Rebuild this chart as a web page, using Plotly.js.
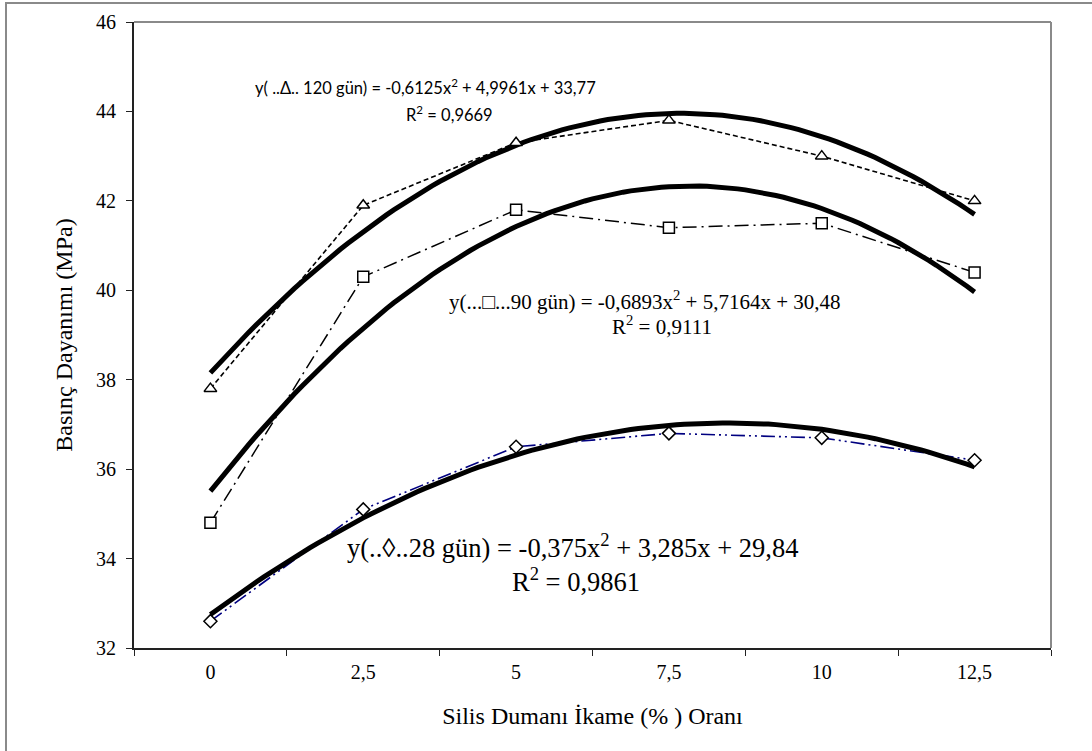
<!DOCTYPE html>
<html>
<head>
<meta charset="utf-8">
<script src="https://cdn.plot.ly/plotly-3.0.1.min.js"></script>
<style>
  html, body { margin: 0; padding: 0; background: #fff; }
  #wrap { position: relative; width: 1092px; height: 751px; }
  #chart { width: 1092px; height: 751px; }
  #frame { position: absolute; left: 5px; top: 2px; width: 1200px; height: 800px;
           border-left: 2px solid #8a8a8a; border-top: 2px solid #8a8a8a; pointer-events: none; }
</style>
</head>
<body>
<div id="wrap">
  <div id="chart"></div>
  <div id="frame"></div>
</div>
<script>
// Category positions (Excel category axis: index 1..6)
const categoryIndex = [1, 2, 3, 4, 5, 6];
const categoryLabels = ['0', '2,5', '5', '7,5', '10', '12,5'];

// Measured compressive strength (MPa)
const day120 = [37.8, 41.9, 43.3, 43.8, 43.0, 42.0];
const day90  = [34.8, 40.3, 41.8, 41.4, 41.5, 40.4];
const day28  = [32.6, 35.1, 36.5, 36.8, 36.7, 36.2];

// Polynomial trendline coefficients shown in the chart [a, b, c] for a*x^2 + b*x + c
const trend120 = [-0.6125, 4.9961, 33.77];
const trend90  = [-0.6893, 5.7164, 30.48];
const trend28  = [-0.375, 3.285, 29.84];

const yTicks = [32, 34, 36, 38, 40, 42, 44, 46];

function trendCurve(coef) {
  const xs = [], ys = [];
  const n = 100;
  for (let i = 0; i <= n; i++) {
    const x = categoryIndex[0] + (categoryIndex[categoryIndex.length - 1] - categoryIndex[0]) * i / n;
    xs.push(x);
    ys.push(coef[0] * x * x + coef[1] * x + coef[2]);
  }
  return {xs, ys};
}

const t120 = trendCurve(trend120);
const t90 = trendCurve(trend90);
const t28 = trendCurve(trend28);

const serif = "'Liberation Serif', 'Times New Roman', serif";
const sans = "Lato, 'Open Sans', sans-serif";

const traces = [
  {x: categoryIndex, y: day28, mode: 'lines', type: 'scatter',
   line: {color: '#000080', width: 1.6, dash: '14px,4px,2px,4px,2px,4px'}, showlegend: false, hoverinfo: 'skip'},
  {x: categoryIndex, y: day90, mode: 'lines', type: 'scatter',
   line: {color: '#000', width: 1.5, dash: '14px,5px,2px,5px'}, showlegend: false, hoverinfo: 'skip'},
  {x: categoryIndex, y: day120, mode: 'lines', type: 'scatter',
   line: {color: '#000', width: 1.6, dash: '5px,3px'}, showlegend: false, hoverinfo: 'skip'},
  {x: t28.xs, y: t28.ys, mode: 'lines', type: 'scatter', line: {color: '#000', width: 5}, showlegend: false},
  {x: t90.xs, y: t90.ys, mode: 'lines', type: 'scatter', line: {color: '#000', width: 5}, showlegend: false},
  {x: t120.xs, y: t120.ys, mode: 'lines', type: 'scatter', line: {color: '#000', width: 5}, showlegend: false},
  {x: categoryIndex, y: day28, mode: 'markers', type: 'scatter',
   marker: {symbol: 'diamond', size: 10, color: '#fff', line: {color: '#000', width: 1.5}}, showlegend: false},
  {x: categoryIndex, y: day90, mode: 'markers', type: 'scatter',
   marker: {symbol: 'square', size: 11, color: '#fff', line: {color: '#000', width: 1.5}}, showlegend: false},
  {x: categoryIndex, y: day120, mode: 'markers', type: 'scatter',
   marker: {symbol: 'triangle-up', size: 11, color: '#fff', line: {color: '#000', width: 1.5}}, showlegend: false}
];

const layout = {
  width: 1092, height: 751,
  margin: {l: 134, r: 41, t: 22, b: 103},
  paper_bgcolor: '#fff', plot_bgcolor: '#fff',
  showlegend: false,
  xaxis: {
    range: [0.5, 6.5], showgrid: false, zeroline: false,
    tickmode: 'array', tickvals: categoryIndex, ticktext: categoryLabels,
    ticks: '', ticklabelstandoff: 5,
    tickfont: {family: serif, size: 20, color: '#000'},
    showline: true, linecolor: '#222', linewidth: 2,
    minor: {tickmode: 'array', tickvals: [0.5, 1.5, 2.5, 3.5, 4.5, 5.5, 6.5], ticks: 'outside', ticklen: 6, tickwidth: 1, tickcolor: '#222', showgrid: false},
    title: {text: 'Silis Dumanı İkame (% ) Oranı', font: {family: serif, size: 24, color: '#000'}, standoff: 25}
  },
  yaxis: {
    range: [32, 46], showgrid: false, zeroline: false,
    tickmode: 'array', tickvals: yTicks, ticktext: yTicks.map(String),
    ticks: 'outside', ticklen: 6, tickwidth: 1, tickcolor: '#222',
    ticklabelstandoff: 6,
    tickfont: {family: serif, size: 20, color: '#000'},
    showline: true, linecolor: '#222', linewidth: 2,
    title: {text: 'Basınç Dayanımı (MPa)', font: {family: serif, size: 24, color: '#000'}, standoff: 17}
  },
  shapes: [
    {type: 'line', xref: 'paper', yref: 'paper', x0: 0, x1: 1, y0: 1, y1: 1, line: {color: '#8a8a8a', width: 2}},
    {type: 'line', xref: 'paper', yref: 'paper', x0: 1, x1: 1, y0: 0, y1: 1, line: {color: '#8a8a8a', width: 2}}
  ],
  annotations: [
    {xref: 'paper', yref: 'paper', x: (253 - 134) / 917, y: (648 - 87) / 626, xanchor: 'left', yanchor: 'middle',
     text: 'y( ..Δ.. 120 gün) = -0,6125x<sup>2</sup> + 4,9961x + 33,77', showarrow: false,
     font: {family: sans, size: 16.5, color: '#000'}},
    {xref: 'paper', yref: 'paper', x: (404 - 134) / 917, y: (648 - 114) / 626, xanchor: 'left', yanchor: 'middle',
     text: 'R<sup>2</sup> = 0,9669', showarrow: false, font: {family: sans, size: 16.5, color: '#000'}},
    {xref: 'paper', yref: 'paper', x: (447 - 134) / 917, y: (648 - 300) / 626, xanchor: 'left', yanchor: 'middle',
     text: 'y(...□...90 gün) = -0,6893x<sup>2</sup> + 5,7164x + 30,48', showarrow: false,
     font: {family: serif, size: 21, color: '#000'}},
    {xref: 'paper', yref: 'paper', x: (610 - 134) / 917, y: (648 - 325) / 626, xanchor: 'left', yanchor: 'middle',
     text: 'R<sup>2</sup> = 0,9111', showarrow: false, font: {family: serif, size: 21, color: '#000'}},
    {xref: 'paper', yref: 'paper', x: (345 - 134) / 917, y: (648 - 546) / 626, xanchor: 'left', yanchor: 'middle',
     text: 'y(..◊..28 gün) = -0,375x<sup>2</sup> + 3,285x + 29,84', showarrow: false,
     font: {family: serif, size: 26.5, color: '#000'}},
    {xref: 'paper', yref: 'paper', x: (510 - 134) / 917, y: (648 - 580) / 626, xanchor: 'left', yanchor: 'middle',
     text: 'R<sup>2</sup> = 0,9861', showarrow: false, font: {family: serif, size: 26.5, color: '#000'}}
  ]
};

Plotly.newPlot('chart', traces, layout, {displayModeBar: false, staticPlot: true});
</script>
</body>
</html>
